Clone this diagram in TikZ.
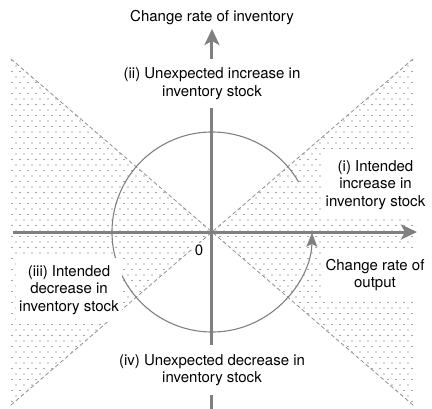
\documentclass[tikz,border=0pt]{standalone}
\usepackage{fontspec}
\setmainfont{TeX Gyre Heros}
\usetikzlibrary{arrows.meta}
\definecolor{axisgray}{RGB}{128,128,128}
\definecolor{dashgray}{RGB}{145,145,145}
\definecolor{dotgray}{RGB}{80,80,80}

\begin{document}
\begin{tikzpicture}[x=1bp,y=1bp,
  lbl/.style={font=\fontsize{15bp}{17.5bp}\selectfont, align=center, inner sep=3bp},
  boxlbl/.style={lbl, fill=white, inner xsep=3bp, inner ysep=7bp},
  axislbl/.style={boxlbl, inner ysep=9bp},
  axisline/.style={axisgray, line width=3bp, -{Stealth[length=16bp,width=15bp,inset=4bp]}},
  wedgeline/.style={dashgray, line width=0.8bp, dash pattern=on 4bp off 2.5bp}]

\useasboundingbox (-212,-177) rectangle (220,232);

\coordinate (O) at (0,0);
\coordinate (ul) at (-201,173);
\coordinate (ll) at (-201,-173);
\coordinate (ur) at (201,173);
\coordinate (lr) at (201,-173);

% dotted wedges
\begin{scope}
\clip (ul) -- (O) -- (ll) -- cycle (ur) -- (O) -- (lr) -- cycle;
\foreach \j in {0,...,64}
  \foreach \i in {0,...,53}
    \fill[dotgray] ({-212+8*\i+4*mod(\j,2)},{-175+5.5*\j}) circle (0.7);
\end{scope}

\draw[wedgeline] (ul) -- (lr);
\draw[wedgeline] (ll) -- (ur);

\draw[axisgray, line width=1.1bp, -{Stealth[length=14bp,width=11bp,inset=3bp]}]
  (30:100) arc[start angle=30, end angle=359.5, radius=100];

\coordinate (xl) at (-199,0);
\coordinate (xr) at (205,0);
\coordinate (yb) at (0,-177);
\coordinate (yt) at (0,203);

\draw[axisline] (xl) -- (xr);
\draw[axisline] (yb) -- (yt);

%%%%%%%%%%%%%%%

\node[lbl, anchor=base] (ylab) at (0,211) {Change rate of inventory};
\node[axislbl] (incr) at (0,148.5) {(ii) Unexpected increase in\\inventory stock};
\node[axislbl] (decr) at (0,-138) {(iv) Unexpected decrease in\\inventory stock};
\node[boxlbl] (quadi) at (163.5,47) {(i) Intended\\increase in\\inventory stock};
\node[boxlbl] (quadiii) at (-143,-58) {(iii) Intended\\decrease in\\inventory stock};
\node[boxlbl] (xlab) at (163,-43) {Change rate of\\output};
\node[lbl, fill=white, inner sep=2bp] (zero) at (-13,-18) {0};

\end{tikzpicture}
\end{document}
